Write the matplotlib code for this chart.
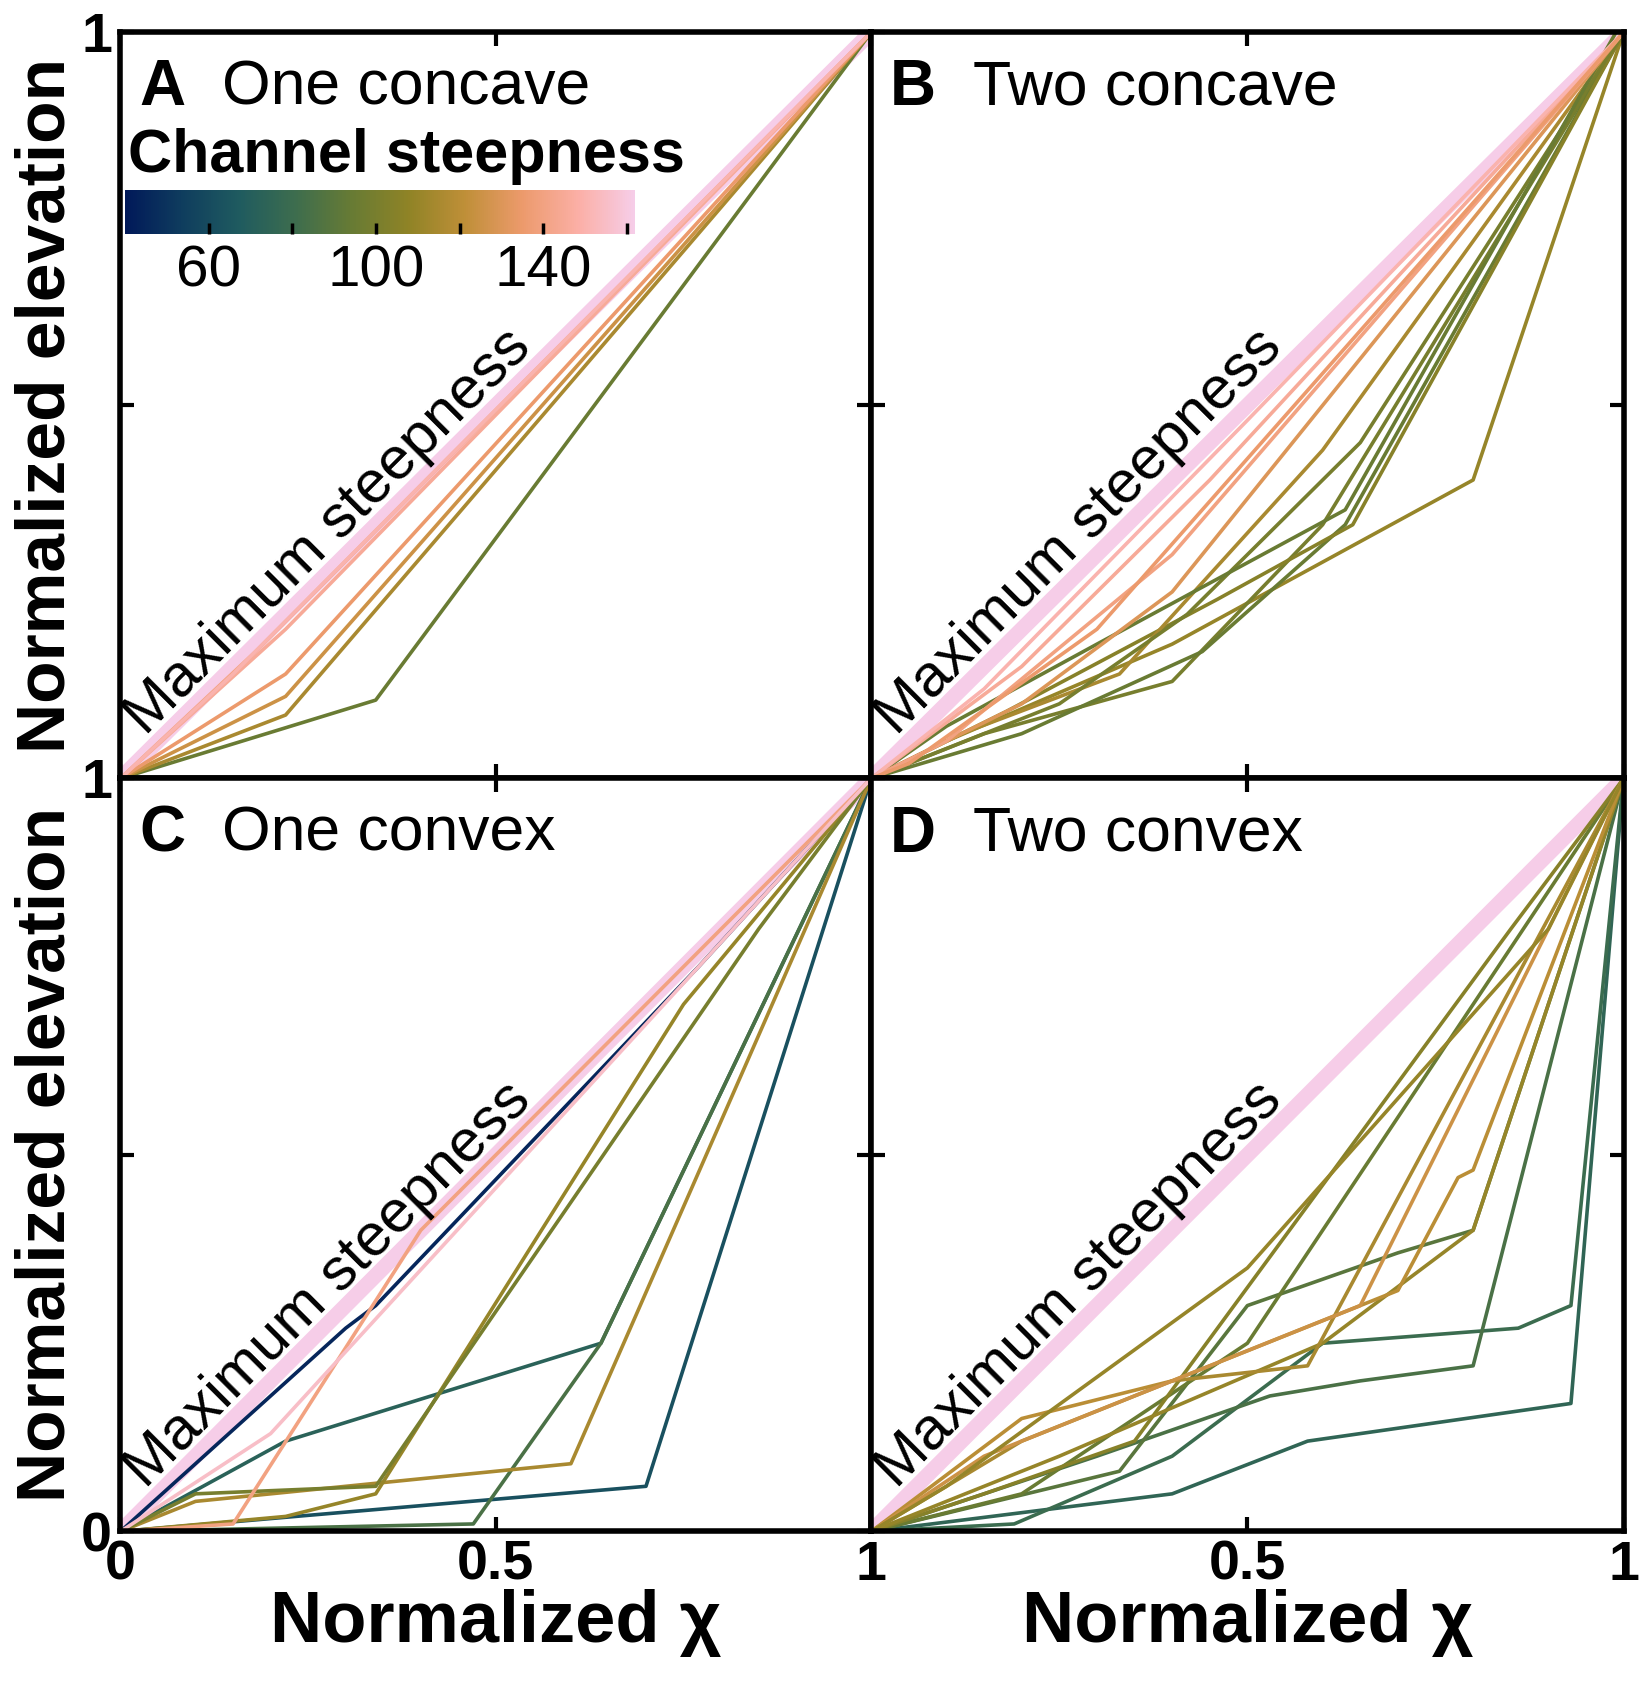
import matplotlib
matplotlib.use("Agg")
import matplotlib.pyplot as plt
import numpy as np
from matplotlib.colors import LinearSegmentedColormap, Normalize
from matplotlib.cm import ScalarMappable

plt.rcParams['font.family'] = ['Liberation Sans', 'DejaVu Sans']

cmap = LinearSegmentedColormap.from_list('batlow', ['#011959', '#0F3D5E', '#1F5B5F', '#3D6D4E', '#677B34',
                                                    '#8F8326', '#BF8F38', '#EC9A6B', '#FBAFA6', '#F6CDE8'])
norm = Normalize(40, 162)
max_k = 162

# each line: (steepness, x points, y points)
panel_A = [
    (95, [0, 0.34, 1], [0, 0.105, 1]),
    (115, [0, 0.22, 1], [0, 0.085, 1]),
    (125, [0, 0.22, 1], [0, 0.11, 1]),
    (135, [0, 0.22, 1], [0, 0.14, 1]),
    (140, [0, 0.18, 1], [0, 0.17, 1]),
    (145, [0, 0.22, 1], [0, 0.2, 1]),
    (150, [0, 0.15, 1], [0, 0.14, 1]),
]
panel_B = [
    (110, [0, 0.1, 0.4, 0.8, 1], [0, 0.05, 0.18, 0.4, 1]),
    (100, [0, 0.15, 0.4, 0.6, 1], [0, 0.06, 0.13, 0.34, 1]),
    (95, [0, 0.2, 0.44, 0.63, 1], [0, 0.06, 0.17, 0.34, 1]),
    (105, [0, 0.18, 0.46, 0.64, 1], [0, 0.09, 0.24, 0.34, 1]),
    (115, [0, 0.12, 0.33, 0.6, 1], [0, 0.06, 0.14, 0.44, 1]),
    (100, [0, 0.25, 0.42, 0.65, 1], [0, 0.1, 0.22, 0.45, 1]),
    (95, [0, 0.1, 0.3, 0.63, 0.99], [0, 0.07, 0.18, 0.36, 1]),
    (130, [0, 0.2, 0.4, 1], [0, 0.1, 0.25, 1]),
    (140, [0, 0.1, 0.4, 1], [0, 0.05, 0.3, 1]),
    (145, [0, 0.2, 0.45, 1], [0, 0.15, 0.4, 1]),
    (150, [0, 0.15, 0.5, 1], [0, 0.12, 0.48, 1]),
    (135, [0, 0.05, 0.3, 1], [0, 0.02, 0.2, 1]),
]
panel_C = [
    (45, [0, 0.3, 0.34, 0.77, 1], [0, 0.27, 0.3, 0.75, 1]),
    (62, [0, 0.7, 1], [0, 0.06, 1]),
    (72, [0, 0.22, 0.64, 1], [0, 0.12, 0.25, 1]),
    (85, [0, 0.47, 0.64, 1], [0, 0.01, 0.25, 1]),
    (115, [0, 0.1, 0.6, 1], [0, 0.04, 0.09, 1]),
    (110, [0, 0.22, 0.34, 0.75, 1], [0, 0.02, 0.05, 0.7, 1]),
    (100, [0, 0.1, 0.34, 0.85, 1], [0, 0.05, 0.06, 0.8, 1]),
    (140, [0, 0.15, 0.4, 1], [0, 0.01, 0.4, 1]),
    (155, [0, 0.2, 1], [0, 0.13, 1]),
]
panel_D = [
    (75, [0, 0.4, 0.58, 0.93, 1], [0, 0.05, 0.12, 0.17, 1]),
    (80, [0, 0.19, 0.4, 0.6, 0.86, 0.93, 1], [0, 0.01, 0.1, 0.25, 0.27, 0.3, 1]),
    (85, [0, 0.3, 0.53, 0.65, 0.8, 1], [0, 0.1, 0.18, 0.2, 0.22, 1]),
    (90, [0, 0.33, 0.5, 0.7, 0.8, 1], [0, 0.08, 0.3, 0.37, 0.4, 1]),
    (95, [0, 0.2, 0.5, 1], [0, 0.05, 0.25, 1]),
    (105, [0, 0.15, 0.35, 0.85, 1], [0, 0.05, 0.12, 0.8, 1]),
    (110, [0, 0.25, 0.6, 0.8, 1], [0, 0.1, 0.25, 0.4, 1]),
    (115, [0, 0.2, 0.4, 0.58, 1], [0, 0.12, 0.2, 0.22, 1]),
    (120, [0, 0.2, 0.4, 0.7, 0.78, 0.8, 1], [0, 0.15, 0.2, 0.32, 0.47, 0.48, 1]),
    (125, [0, 0.15, 0.45, 0.65, 1], [0, 0.1, 0.22, 0.3, 1]),
    (110, [0, 0.1, 0.5, 0.9, 1], [0, 0.06, 0.35, 0.8, 1]),
]
panels = [panel_A, panel_B, panel_C, panel_D]
letters = ['A', 'B', 'C', 'D']
titles = ['One concave', 'Two concave', 'One convex', 'Two convex']

fig = plt.figure(figsize=(16.5, 16.96), dpi=100)
L, M, R = 0.073, 0.528, 0.984
B0, M1, T = 0.097, 0.541, 0.981
rects = [(L, M1, M - L, T - M1), (M, M1, R - M, T - M1), (L, B0, M - L, M1 - B0), (M, B0, R - M, M1 - B0)]

for i, (rect, data) in enumerate(zip(rects, panels)):
    ax = fig.add_axes(rect)
    ax.plot([0, 1], [0, 1], color=cmap(norm(max_k)), lw=11, solid_capstyle='butt', zorder=1)
    for k, xs, ys in data:
        ax.plot(xs, ys, color=cmap(norm(k)), lw=2.6, zorder=2)
    ax.set_xlim(0, 1); ax.set_ylim(0, 1)
    ax.set_xticks([0, 0.5, 1]); ax.set_yticks([0, 0.5, 1])
    ax.tick_params(direction='in', length=10, width=3, top=True, right=True, labelsize=40, pad=6)
    for s in ax.spines.values():
        s.set_linewidth(4)
    ax.text(0.025, 0.965, letters[i], transform=ax.transAxes, fontsize=46, fontweight='bold', va='top')
    ax.text(0.135, 0.965, titles[i], transform=ax.transAxes, fontsize=45, va='top')
    ax.text(0.045, 0.045, 'Maximum steepness', fontsize=43, rotation=45, rotation_mode='anchor',
            transform=ax.transData, ha='left', va='bottom')
    if i == 0:
        ax.set_yticklabels(['', '', '1'])
    elif i == 2:
        ax.set_yticklabels(['0', '', '1'])
    else:
        ax.set_yticklabels([])
    if i == 2:
        ax.set_xticklabels(['0', '0.5', '1'])
    elif i == 3:
        ax.set_xticklabels(['', '0.5', '1'])
    else:
        ax.set_xticklabels([])
    for lab in ax.get_xticklabels() + ax.get_yticklabels():
        lab.set_fontweight('bold')
    if i in (0, 2):
        ax.set_ylabel('Normalized elevation', fontsize=50, fontweight='bold', labelpad=2)
    if i in (2, 3):
        ax.set_xlabel('Normalized χ', fontsize=52, fontweight='bold', labelpad=-2)
    if i == 0:
        ax.text(0.01, 0.795, 'Channel steepness', transform=ax.transAxes, fontsize=44, fontweight='bold', va='bottom')
        cax = ax.inset_axes([0.006, 0.73, 0.68, 0.058])
        cb = fig.colorbar(ScalarMappable(norm=norm, cmap=cmap), cax=cax, orientation='horizontal')
        cb.set_ticks([60, 80, 100, 120, 140, 160])
        cb.set_ticklabels(['60', '', '100', '', '140', ''])
        cb.outline.set_visible(False)
        cax.tick_params(direction='in', length=8, width=2.5, labelsize=42, color='black', pad=8)

fig.savefig('out.png', dpi=100)
